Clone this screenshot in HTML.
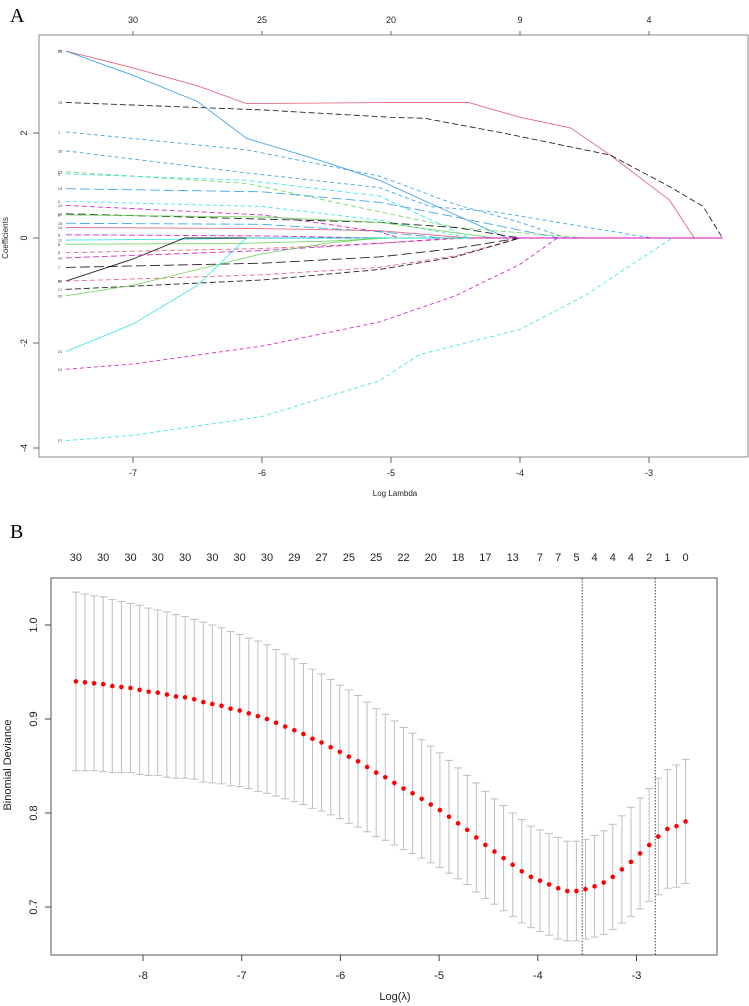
<!DOCTYPE html>
<html><head><meta charset="utf-8"><style>
html,body{margin:0;padding:0;background:#fff;}
svg{display:block;font-family:"Liberation Sans",Arial,sans-serif;}
</style></head><body>
<svg id="fig" width="749" height="1006" viewBox="0 0 749 1006" xmlns="http://www.w3.org/2000/svg">
<text x="10" y="22" font-family="Liberation Serif" font-size="20">A</text>
<text x="10" y="538" font-family="Liberation Serif" font-size="20">B</text>
<g id="pa"></g>
<g id="pb"></g>
</svg>
<script>
// ---------- Panel A data ----------
const aXTicks = [-7,-6,-5,-4,-3];
const aYTicks = [-4,-2,0,2];
const aTopTicks = [-7,-6,-5,-4,-3];
const aTopLabels = ["30","25","20","9","4"];
const aColors = ["#DF536B","#000000","#2297E6","#2297E6","#2297E6","#61D04F","#28E2E5","#2297E6","#28E2E5","#CD0BBC","#000000","#61D04F","#2297E6","#DF536B","#CD0BBC","#28E2E5","#61D04F","#000000","#DF536B","#CD0BBC","#000000","#DF536B","#000000","#61D04F","#28E2E5","#CD0BBC","#28E2E5"];
const aDash = ["0","6 3","0","4 3","4 3","5 3","5 3","10 4","4 3","5 3","8 4","0","10 4","0","6 3","0","0","0","5 3","6 3","10 4","5 3","6 3","0","0","4 3","4 3"];
const aPaths = [
 [[-7.52,3.56],[-7,3.24],[-6.5,2.90],[-6.12,2.56],[-5,2.58],[-4.4,2.58],[-4,2.30],[-3.61,2.10],[-3.3,1.58],[-2.84,0.72],[-2.65,0]],
 [[-7.52,2.58],[-6,2.44],[-5,2.30],[-4.74,2.28],[-4.13,2.0],[-3.3,1.58],[-2.84,0.98],[-2.58,0.60],[-2.43,0]],
 [[-7.52,3.56],[-7,3.10],[-6.5,2.60],[-6.12,1.90],[-5.5,1.44],[-5.09,1.10],[-4.5,0.44],[-4.1,0]],
 [[-7.52,2.02],[-6.12,1.68],[-5.09,1.18],[-4.5,0.64],[-4,0.30],[-3.64,0]],
 [[-7.52,1.66],[-6.12,1.24],[-5.09,0.96],[-4.7,0.60],[-4.2,0.50],[-2.98,0]],
 [[-7.52,1.26],[-6.12,1.04],[-5.09,0.50],[-4.5,0.2],[-3.5,0]],
 [[-7.52,1.22],[-6.12,1.10],[-5.09,0.80],[-4.39,0]],
 [[-7.52,0.94],[-6,0.88],[-5.09,0.68],[-4.5,0.4],[-3.7,0]],
 [[-7.52,0.70],[-6,0.60],[-5.09,0.34],[-4.39,0]],
 [[-7.52,0.62],[-6,0.44],[-5.09,0.12],[-4.93,0]],
 [[-7.52,0.46],[-6,0.36],[-5.09,0.30],[-4.5,0.2],[-4.0,0]],
 [[-7.52,0.44],[-6,0.40],[-5.09,0.30],[-4.5,0.10],[-4.2,0]],
 [[-7.52,0.28],[-6,0.26],[-5.09,0.12],[-4.6,0]],
 [[-7.52,0.20],[-6,0.18],[-5.09,0.14],[-4.4,0]],
 [[-7.52,0.06],[-6,0.04],[-5.09,0]],
 [[-7.52,-0.04],[-6.5,-0.02],[-6.1,0]],
 [[-7.52,-0.12],[-6.12,-0.10],[-5.5,-0.06],[-5,0]],
 [[-7.52,-0.82],[-7,-0.40],[-6.6,0]],
 [[-7.52,-0.28],[-6,-0.20],[-5.09,-0.10],[-4.4,0]],
 [[-7.52,-0.38],[-6,-0.24],[-5.09,-0.10],[-4.5,0]],
 [[-7.52,-0.56],[-6,-0.48],[-5.09,-0.36],[-4.5,-0.2],[-4,0]],
 [[-7.52,-0.82],[-6,-0.70],[-5.09,-0.56],[-4.5,-0.34],[-4,0]],
 [[-7.52,-0.98],[-6,-0.80],[-5.09,-0.60],[-4.5,-0.36],[-4,0]],
 [[-7.52,-1.10],[-7,-0.90],[-6.5,-0.6],[-6,-0.30],[-5.5,-0.10],[-5.1,0]],
 [[-7.52,-2.16],[-7,-1.64],[-6.5,-0.90],[-6.12,0]],
 [[-7.52,-2.50],[-7,-2.40],[-6,-2.06],[-5.09,-1.60],[-4.5,-1.10],[-4,-0.50],[-3.71,0]],
 [[-7.52,-3.86],[-7,-3.76],[-6,-3.40],[-5.09,-2.72],[-4.78,-2.22],[-4,-1.74],[-3.5,-1.10],[-2.82,0]]
];
const aPathLabels = ["30","19","29","1","26","23","5","13","2","12","16","6","15","14","9","11","8","4","3","10","7","28","17","20","21","24","27"];
const aLamEnd = -2.43;

// ---------- Panel B data ----------
const bStartLambda = -8.68;
const bStepLambda = 0.0922;
const bMean = [0.940,0.939,0.938,0.937,0.935,0.934,0.933,0.931,0.929,0.928,0.926,0.924,0.923,0.921,0.918,0.916,0.914,0.911,0.909,0.906,0.903,0.900,0.896,0.892,0.888,0.884,0.879,0.875,0.870,0.865,0.860,0.855,
0.849,0.843,0.838,0.832,0.826,0.821,0.815,0.809,0.803,0.796,0.789,0.782,0.774,0.766,0.759,0.752,0.745,0.738,0.732,0.728,0.724,0.720,0.717,0.717,0.719,0.722,0.726,0.732,0.740,0.748,0.757,0.766,0.775,0.783,0.786,0.791];
const bHalfWidth = [.095,.094,.093,.093,.092,.091,.090,.090,.089,.088,.088,.087,.086,.085,.085,.084,.083,.082,.081,.080,.080,.079,.078,.077,.076,.075,.074,.073,.072,.071,.071,.070,.069,.068,.067,.066,.065,.064,.063,.062,.061,.060,.059,.058,.058,.057,.056,.056,.055,.055,.054,.054,.054,.054,.053,.053,.053,.054,.055,.056,.057,.058,.059,.060,.062,.063,.065,.066];
const bXTicks = [-8,-7,-6,-5,-4,-3];
const bYTicks = [0.7,0.8,0.9,1.0];
const bTopIdx = [0,3,6,9,12,15,18,21,24,27,30,33,36,39,42,45,48,51,53,55,57,59,61,63,65,67];
const bTopLabels = ["30","30","30","30","30","30","30","30","29","27","25","25","22","20","18","17","13","7","7","5","4","4","4","2","1","0"];
const bVLines = [-3.55,-2.81];

const NS = "http://www.w3.org/2000/svg";
function mk(tag, attrs, parent){const e=document.createElementNS(NS,tag);for(const k in attrs)e.setAttribute(k,attrs[k]);parent.appendChild(e);return e;}

// ---------- Panel A draw ----------
const pa = document.getElementById('pa');
const ax = v => 262 + (v + 6) * 129;
const ay = v => 238 - 52.5 * v;
let r = mk('rect',{x:39,y:35,width:709,height:422,fill:'none',stroke:'#888','stroke-width':1},pa);


aXTicks.forEach(t=>{
  const l=mk('line',{x1:ax(t),x2:ax(t),y1:457,y2:463,stroke:'#666'},pa);
  
  
  const tx=mk('text',{x:ax(t),y:476,'font-size':9,'text-anchor':'middle',fill:'#222'},pa);tx.textContent=t;
  
  
});
aYTicks.forEach(t=>{
  const l=mk('line',{x1:33,x2:39,y1:ay(t),y2:ay(t),stroke:'#666'},pa);
  
  
  const tx=mk('text',{x:0,y:0,'font-size':9,'text-anchor':'middle',fill:'#222',transform:`translate(27,${ay(t)}) rotate(-90)`},pa);tx.textContent=t;
  
  
});
aTopTicks.forEach((t,i)=>{
  const l=mk('line',{x1:ax(t),x2:ax(t),y1:31,y2:35,stroke:'#666'},pa);
  
  
  const tx=mk('text',{x:ax(t),y:23,'font-size':9,'text-anchor':'middle',fill:'#222'},pa);tx.textContent=aTopLabels[i];
  
  
});
let t1=mk('text',{x:395,y:496,'font-size':8,'text-anchor':'middle',fill:'#222'},pa);t1.textContent='Log Lambda';


let t2=mk('text',{x:0,y:0,'font-size':8,'text-anchor':'middle',fill:'#222',transform:'translate(8,238) rotate(-90)'},pa);t2.textContent='Coefficients';


aPaths.forEach((p,i)=>{
  let d=p.map((q,j)=>(j?'L':'M')+ax(q[0]).toFixed(1)+','+ay(q[1]).toFixed(1)).join(' ');
  const last=p[p.length-1];
  d+=' L'+ax(aLamEnd).toFixed(1)+','+ay(last[1]).toFixed(1);
  const pe=mk('path',{d:d,fill:'none',stroke:aColors[i],'stroke-width':0.9,'stroke-dasharray':aDash[i],'stroke-opacity':0.85},pa);
  
  
  const lb=mk('text',{x:ax(p[0][0])-8,y:ay(p[0][1])+1.5,'font-size':4,fill:'#333'},pa);lb.textContent=aPathLabels[i];
  
  
});
let zl=mk('line',{x1:ax(-4.4),x2:ax(aLamEnd),y1:ay(0),y2:ay(0),stroke:'#CD0BBC','stroke-width':1},pa);



// ---------- Panel B draw ----------
const pb = document.getElementById('pb');
const bx = v => 143 + (v + 8) * 98.7;
const by = v => 625 + (1.0 - v) * 940;
let rb=mk('rect',{x:51,y:578,width:666,height:377,fill:'none',stroke:'#555','stroke-width':1},pb);


bXTicks.forEach(t=>{
  const l=mk('line',{x1:bx(t),x2:bx(t),y1:955,y2:961,stroke:'#444'},pb);
  
  
  const tx=mk('text',{x:bx(t),y:979,'font-size':11,'text-anchor':'middle',fill:'#222'},pb);tx.textContent=t;
  
  
});
bYTicks.forEach(t=>{
  const l=mk('line',{x1:45,x2:51,y1:by(t),y2:by(t),stroke:'#444'},pb);
  
  
  const tx=mk('text',{x:0,y:0,'font-size':11,'text-anchor':'middle',fill:'#222',transform:`translate(37,${by(t)}) rotate(-90)`},pb);tx.textContent=t.toFixed(1);
  
  
});
bTopIdx.forEach((k,i)=>{
  const tx=mk('text',{x:bx(bStartLambda+k*bStepLambda),y:561,'font-size':11,'text-anchor':'middle',fill:'#222'},pb);tx.textContent=bTopLabels[i];
  
  
});
let t3=mk('text',{x:395,y:1000,'font-size':11,'text-anchor':'middle',fill:'#222'},pb);t3.textContent='Log(\u03BB)';


let t4=mk('text',{x:0,y:0,'font-size':11,'text-anchor':'middle',fill:'#222',transform:'translate(11,765) rotate(-90)'},pb);t4.textContent='Binomial Deviance';


bVLines.forEach(v=>{
  const l=mk('line',{x1:bx(v),x2:bx(v),y1:578,y2:955,stroke:'#444','stroke-width':1,'stroke-dasharray':'1.5 1.5'},pb);
  
  
});
bMean.forEach((m,i)=>{
  const x=bx(bStartLambda+i*bStepLambda);
  const hi=by(m+bHalfWidth[i]), lo=by(m-bHalfWidth[i]);
  const g=mk('g',{stroke:'#BEBEBE','stroke-width':1},pb);
  
  
  mk('line',{x1:x,x2:x,y1:hi,y2:lo},g);
  mk('line',{x1:x-4,x2:x+4,y1:hi,y2:hi},g);
  mk('line',{x1:x-4,x2:x+4,y1:lo,y2:lo},g);
});
bMean.forEach((m,i)=>{
  const c=mk('circle',{cx:bx(bStartLambda+i*bStepLambda),cy:by(m),r:2.3,fill:'#FF0000'},pb);
  
  
});
</script>
</body></html>
